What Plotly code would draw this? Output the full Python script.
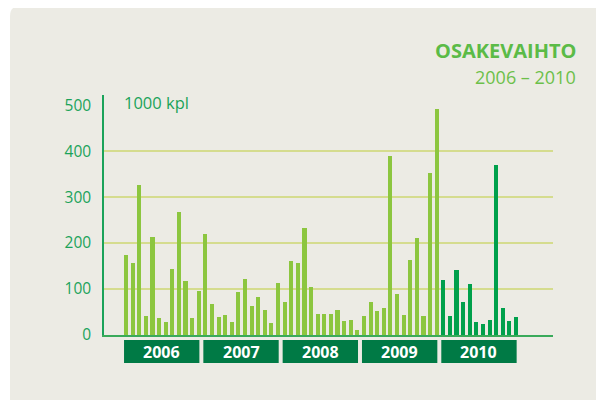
import plotly.graph_objects as go

# Monthly share trading volume, 1000 pcs
years = ["2006", "2007", "2008", "2009", "2010"]
vol_2006 = [174, 156, 326, 41, 213, 37, 28, 143, 267, 117, 37, 96]
vol_2007 = [220, 67, 39, 43, 28, 94, 122, 63, 82, 54, 26, 113]
vol_2008 = [71, 161, 156, 233, 104, 46, 46, 46, 54, 30, 33, 11]
vol_2009 = [41, 71, 52, 59, 389, 89, 43, 163, 211, 41, 352, 491]
vol_2010 = [120, 41, 141, 71, 112, 28, 24, 33, 370, 59, 30, 39]
y_ticks = [0, 100, 200, 300, 400, 500]
grid_levels = [100, 200, 300, 400]

LIGHT = "#8cc63f"
DARK = "#00a04b"
BOX = "#007a45"
TXT = "#1ba35a"
PANEL = "#ecebe4"
FONT = "Open Sans"

series = [vol_2006, vol_2007, vol_2008, vol_2009, vol_2010]
xs, ys, cols = [], [], []
for k, vals in enumerate(series):
    for m, v in enumerate(vals):
        xs.append(12 * k + m)
        ys.append(v)
        cols.append(DARK if years[k] == "2010" else LIGHT)

fig = go.Figure(go.Bar(x=xs, y=ys, marker=dict(color=cols, line=dict(width=0)),
                       width=0.62, hoverinfo="y"))

# page body has an 8px margin, so screen coords = figure coords + 8
# helpers below take screen pixel positions and return paper coords
px_w, px_h = 449, 240
def px(x):
    return (x - 104) / px_w
def py(y):
    return (335 - y) / px_h
rx, ry = 10 / px_w, 10 / px_h
x0, y0, x1, y1 = px(10), py(6), px(640), py(420)
path = (f"M {x0},{y1} L {x0},{y0 - ry} Q {x0},{y0} {x0 + rx},{y0} "
        f"L {x1},{y0} L {x1},{y1} Z")
shapes = [dict(type="path", path=path, xref="paper", yref="paper",
               fillcolor=PANEL, line=dict(width=0), layer="below")]

for g in grid_levels:
    shapes.append(dict(type="line", xref="paper", yref="y", x0=0, x1=1, y0=g, y1=g,
                       line=dict(color="#d5dc8e", width=2), layer="below"))

annotations = []
for k, yr in enumerate(years):
    shapes.append(dict(type="rect", xref="x", yref="paper",
                       x0=12 * k - 0.3, x1=12 * k + 11.1, y0=py(340), y1=py(363),
                       fillcolor=BOX, line=dict(width=0)))
    annotations.append(dict(x=12 * k + 5.4, y=py(352), xref="x", yref="paper",
                            xanchor="center", yanchor="middle",
                            text=f"<b>{yr}</b>", showarrow=False,
                            font=dict(color="white", size=16, family=FONT)))

annotations += [
    dict(x=px(578), y=py(50), xref="paper", yref="paper", xanchor="right",
         yanchor="middle", text="<b>OSAKEVAIHTO</b>", showarrow=False,
         font=dict(color="#5bbb47", size=20, family=FONT)),
    dict(x=px(578), y=py(77), xref="paper", yref="paper", xanchor="right",
         yanchor="middle", text="2006 – 2010", showarrow=False,
         font=dict(color="#6cc04a", size=18, family=FONT)),
    dict(x=px(122), y=py(102), xref="paper", yref="paper", xanchor="left",
         yanchor="middle", text="1000 kpl", showarrow=False,
         font=dict(color=TXT, size=16.5, family=FONT)),
]

fig.update_layout(
    width=604, height=400,
    margin=dict(l=96, r=59, t=87, b=73),
    paper_bgcolor="white", plot_bgcolor="rgba(0,0,0,0)",
    showlegend=False, bargap=0,
    shapes=shapes, annotations=annotations,
    font=dict(family=FONT),
)
fig.update_xaxes(range=[-3.33, 64.6], showticklabels=False, showgrid=False,
                 zeroline=False, showline=True, linecolor="#3aaa5a", linewidth=2,
                 fixedrange=True)
fig.update_yaxes(range=[0, 522], tickvals=y_ticks, showgrid=False, zeroline=False,
                 showline=True, linecolor=TXT, linewidth=1.5, ticks="",
                 ticklabelstandoff=8, tickfont=dict(color=TXT, size=15.5, family=FONT),
                 fixedrange=True)

fig.write_html("out.html")
